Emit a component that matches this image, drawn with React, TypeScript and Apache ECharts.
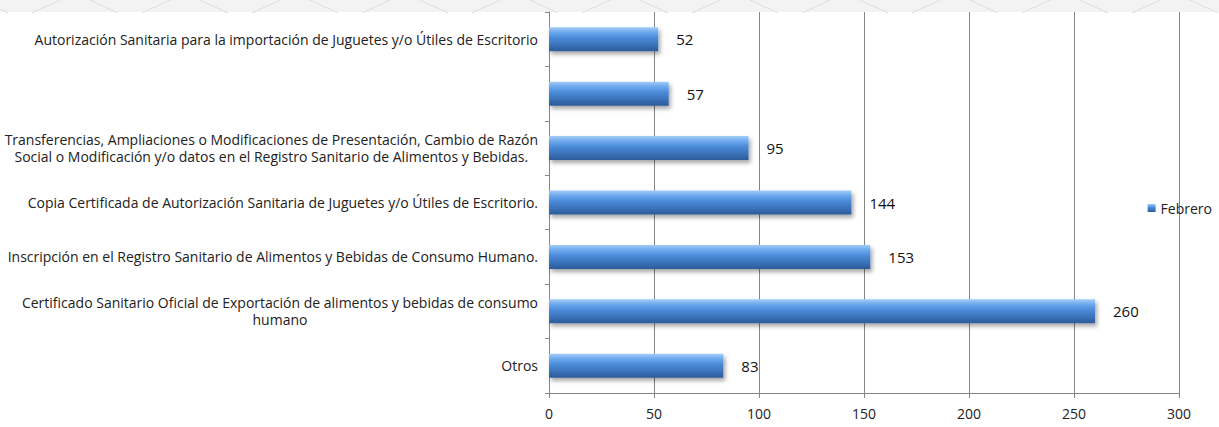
import React, { useEffect, useRef } from "react";
import * as echarts from "echarts";

const categories = [
  "Otros",
  "Certificado Sanitario Oficial de Exportación de alimentos y bebidas de consumo\nhumano",
  "Inscripción en el Registro Sanitario de Alimentos y Bebidas de Consumo Humano.",
  "Copia Certificada de Autorización Sanitaria de Juguetes y/o Útiles de Escritorio.",
  "Transferencias, Ampliaciones o Modificaciones de Presentación, Cambio de Razón\nSocial o Modificación y/o datos en el Registro Sanitario de Alimentos y Bebidas.",
  "",
  "Autorización Sanitaria para la importación de Juguetes y/o Útiles de Escritorio",
];
const febrero = [83, 260, 153, 144, 95, 57, 52];
const seriesName = "Febrero";
const xTicks = { min: 0, max: 300, interval: 50 };

const FONT = "'Open Sans', Lato, sans-serif";

export default function App() {
  const ref = useRef<HTMLDivElement>(null);
  useEffect(() => {
    if (!ref.current) return;
    const chart = echarts.init(ref.current, undefined, { renderer: "svg" });
    const barGradient = new echarts.graphic.LinearGradient(0, 0, 0, 1, [
      { offset: 0, color: "#a4cdf6" },
      { offset: 0.2, color: "#6eaaee" },
      { offset: 0.45, color: "#4a8ad8" },
      { offset: 0.75, color: "#3a71b8" },
      { offset: 1, color: "#2c5a98" },
    ]);
    const chevrons: any[] = [];
    for (let i = 0; i < 12; i++) {
      const x0 = i * 110 - 20;
      chevrons.push({
        type: "line",
        shape: { x1: x0, y1: 0, x2: x0 + 28, y2: 13 },
        style: { stroke: "#dcdcdc", lineWidth: 1 },
        silent: true,
      });
      chevrons.push({
        type: "line",
        shape: { x1: x0 + 80, y1: 0, x2: x0 + 52, y2: 13 },
        style: { stroke: "#dcdcdc", lineWidth: 1 },
        silent: true,
      });
    }
    chart.setOption({
      animation: false,
      backgroundColor: "#ffffff",
      graphic: [
        {
          type: "rect",
          shape: { x: 0, y: 0, width: 1219, height: 12 },
          style: { fill: "#f3f3f3" },
          silent: true,
          z: -10,
        },
        ...chevrons.map((c) => ({ ...c, z: -9 })),
      ],
      legend: {
        show: true,
        data: [seriesName],
        orient: "vertical",
        right: 2,
        top: 196,
        itemWidth: 8,
        itemHeight: 8,
        itemGap: 4,
        icon: "rect",
        textStyle: { fontFamily: FONT, fontSize: 14, color: "#222" },
      },
      grid: { left: 549, right: 40, top: 12, bottom: 34, containLabel: false },
      xAxis: {
        type: "value",
        min: xTicks.min,
        max: xTicks.max,
        interval: xTicks.interval,
        axisLine: { show: true, lineStyle: { color: "#868686", width: 1 } },
        axisTick: { show: true, length: 5, lineStyle: { color: "#868686" } },
        axisLabel: {
          fontFamily: FONT,
          fontSize: 14,
          color: "#222",
          margin: 13,
        },
        splitLine: { show: true, lineStyle: { color: "#868686", width: 1 } },
      },
      yAxis: {
        type: "category",
        data: categories,
        axisLine: { show: true, lineStyle: { color: "#868686", width: 1 } },
        axisTick: { show: true, length: 4, lineStyle: { color: "#868686" } },
        axisLabel: {
          fontFamily: FONT,
          fontSize: 14,
          color: "#222",
          margin: 11,
          lineHeight: 17,
          align: "right",
          formatter: (v: string) =>
            v
              .split("\n")
              .map((l) => `{c|${l}}`)
              .join("\n"),
          rich: {
            c: {
              align: "center",
              fontFamily: FONT,
              fontSize: 14,
              color: "#222",
              lineHeight: 17,
            },
          },
        },
      },
      series: [
        {
          name: seriesName,
          type: "bar",
          data: febrero,
          barWidth: 24,
          itemStyle: {
            color: barGradient,
            shadowColor: "rgba(0,0,0,0.35)",
            shadowBlur: 4,
            shadowOffsetX: 2,
            shadowOffsetY: 3,
          },
          label: {
            show: true,
            position: "right",
            distance: 18,
            fontFamily: FONT,
            fontSize: 15,
            color: "#111",
          },
        },
      ],
    });
    return () => chart.dispose();
  }, []);
  return (
    <div
      ref={ref}
      style={{ position: "fixed", left: 0, top: 0, width: 1219, height: 427 }}
    />
  );
}
